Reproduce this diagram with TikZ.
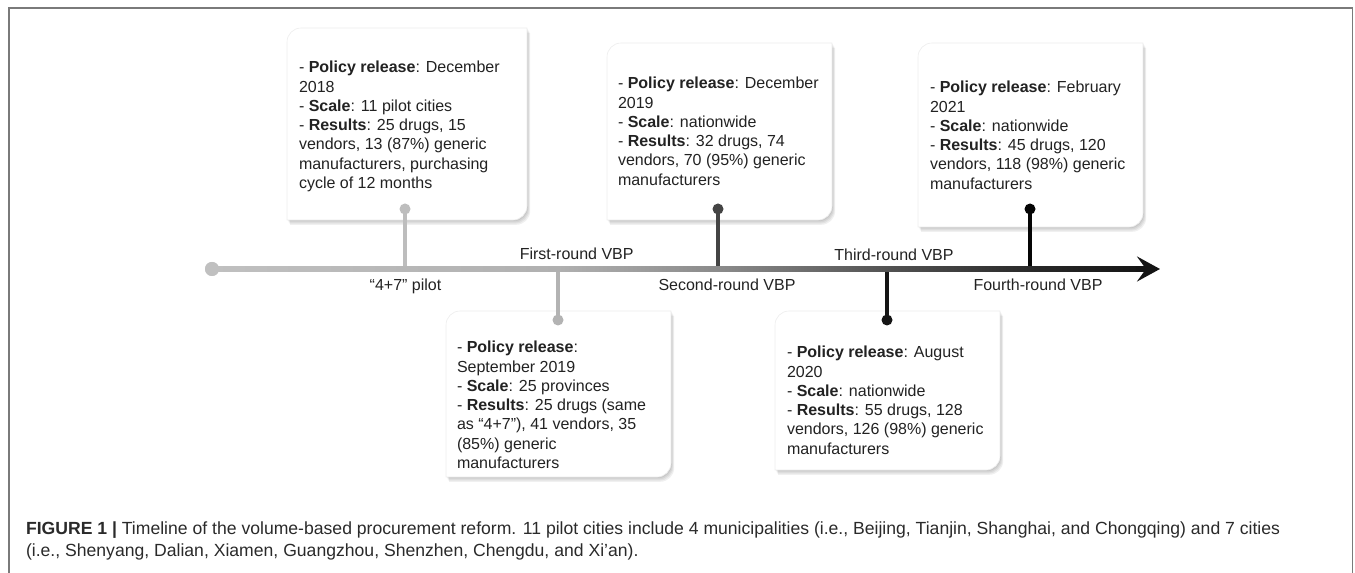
\documentclass[tikz,border=0pt]{standalone}
\usepackage{fontspec}
\setmainfont{Liberation Sans}
\usetikzlibrary{arrows.meta,calc}
\definecolor{framec}{HTML}{7A7A7A}
\definecolor{txtc}{HTML}{222222}
\definecolor{capc}{HTML}{2A2A2A}
\definecolor{s1}{HTML}{BDBDBD}
\definecolor{s2}{HTML}{B3B3B3}
\definecolor{s3}{HTML}{444444}
\definecolor{s4}{HTML}{151515}
\definecolor{s5}{HTML}{050505}
\definecolor{tl0}{HTML}{C0C0C0}
\definecolor{tl1}{HTML}{B0B0B0}
\definecolor{tl2}{HTML}{888888}
\definecolor{tl3}{HTML}{505050}
\definecolor{tl4}{HTML}{282828}
\definecolor{tl5}{HTML}{141414}
\pgfdeclarehorizontalshading{tlshade}{100bp}{color(0bp)=(tl0); color(25bp)=(tl0); color(43.5bp)=(tl1); color(52.5bp)=(tl2); color(61.5bp)=(tl3); color(69bp)=(tl4); color(75bp)=(tl5); color(100bp)=(tl5)}
\newcommand\drawcard[1]{%
  \foreach \dx/\dy in {0.8/1.2,1.6/2.4,2.4/3.6,3.2/4.8}{%
    \fill[black,opacity=0.06,transform canvas={xshift=\dx pt,yshift=-\dy pt}]
      (#1.south west) -- ([yshift=-14pt]#1.north west) arc[start angle=180,end angle=90,radius=14pt]
      -- (#1.north east) -- ([yshift=14pt]#1.south east) arc[start angle=0,end angle=-90,radius=14pt] -- cycle;}
  \filldraw[fill=white,draw=black!7,line width=0.6pt]
      (#1.south west) -- ([yshift=-14pt]#1.north west) arc[start angle=180,end angle=90,radius=14pt]
      -- (#1.north east) -- ([yshift=14pt]#1.south east) arc[start angle=0,end angle=-90,radius=14pt] -- cycle;}
\begin{document}
\begin{tikzpicture}[x=1pt,y=1pt,
  every node/.style={inner sep=0pt,outer sep=0pt},
  cardnode/.style={rectangle,minimum width=#1},
  txt/.style={font=\fontsize{16}{19.3}\selectfont,text=txtc,align=left,anchor=north west},
  lab/.style={font=\fontsize{16}{19.3}\selectfont,text=txtc},
  captxt/.style={font=\fontsize{17.6}{21}\selectfont,text=capc,anchor=base west},
  sdot/.style={circle,minimum size=11pt},
  stem/.style={line width=4pt}]
\useasboundingbox (0,0) rectangle (1355,573);
% frame
\draw[framec,line width=1.5pt] (9,-2) -- (9,565) -- (1352.5,565) -- (1352.5,-2);

% cards
\node[cardnode=240pt,minimum height=192pt] (c1) at (407,449) {};
\node[cardnode=225pt,minimum height=177pt] (c2) at (719.5,441.5) {};
\node[cardnode=225pt,minimum height=184pt] (c4) at (1030.5,438) {};
\node[cardnode=225pt,minimum height=166pt] (c3) at (558.5,179) {};
\node[cardnode=225pt,minimum height=159pt] (c5) at (887.5,182.5) {};
\drawcard{c1}\drawcard{c2}\drawcard{c4}\drawcard{c3}\drawcard{c5}

% card texts
\node[txt] (t1) at (299,511.8) {- \textbf{Policy release}: December\\2018\\- \textbf{Scale}: 11 pilot cities\\- \textbf{Results}: 25 drugs, 15\\vendors, 13 (87\%) generic\\manufacturers, purchasing\\cycle of 12 months};
\node[txt] (t2) at (618,495.8) {- \textbf{Policy release}: December\\2019\\- \textbf{Scale}: nationwide\\- \textbf{Results}: 32 drugs, 74\\vendors, 70 (95\%) generic\\manufacturers};
\node[txt] (t4) at (930,491.8) {- \textbf{Policy release}: February\\2021\\- \textbf{Scale}: nationwide\\- \textbf{Results}: 45 drugs, 120\\vendors, 118 (98\%) generic\\manufacturers};
\node[txt] (t3) at (457,231.8) {- \textbf{Policy release}:\\September 2019\\- \textbf{Scale}: 25 provinces\\- \textbf{Results}: 25 drugs (same\\as “4+7”), 41 vendors, 35\\(85\%) generic\\manufacturers};
\node[txt] (t5) at (787,226.8) {- \textbf{Policy release}: August\\2020\\- \textbf{Scale}: nationwide\\- \textbf{Results}: 55 drugs, 128\\vendors, 126 (98\%) generic\\manufacturers};

% timeline anchors
\node[circle,minimum size=14pt,fill=tl0] (t0) at (212,304) {};
\coordinate (tend) at (1160,304);
\coordinate (p1) at (405,304);
\coordinate (p2) at (558,304);
\coordinate (p3) at (718,304);
\coordinate (p4) at (887,304);
\coordinate (p5) at (1030,304);

% stems and dots
\node[sdot,fill=s1] (d1) at (405,364) {};
\node[sdot,fill=s2] (d2) at (558,253) {};
\node[sdot,fill=s3] (d3) at (718,364) {};
\node[sdot,fill=s4] (d4) at (887,253) {};
\node[sdot,fill=s5] (d5) at (1030,364) {};
\draw[stem,s1] (d1.center) -- (p1);
\draw[stem,s2] (d2.center) -- (p2);
\draw[stem,s3] (d3.center) -- (p3);
\draw[stem,s4] (d4.center) -- (p4);
\draw[stem,s5] (d5.center) -- (p5);

% timeline
\shade[shading=tlshade] ([yshift=-2.8pt]t0.center) rectangle ([xshift=-12pt,yshift=2.8pt]tend);
\draw[line width=5.6pt,tl5,-{Stealth[length=23pt,width=25pt,inset=9pt]}] ([xshift=-24pt]tend) -- (tend);
\fill[tl0] (t0) circle (7pt);

% labels
\node[lab] (l1) at (405.5,286.3) {“4+7” pilot};
\node[lab] (l2) at (576.7,319.7) {First-round VBP};
\node[lab] (l3) at (727,288) {Second-round VBP};
\node[lab] (l4) at (894,318) {Third-round VBP};
\node[lab] (l5) at (1038,288) {Fourth-round VBP};

% caption
\node[captxt] (cap1) at (26,38) {\textbf{FIGURE 1 |} Timeline of the volume-based procurement reform. 11 pilot cities include 4 municipalities (i.e., Beijing, Tianjin, Shanghai, and Chongqing) and 7 cities};
\node[captxt] (cap2) at (26,16.3) {(i.e., Shenyang, Dalian, Xiamen, Guangzhou, Shenzhen, Chengdu, and Xi’an).};
\end{tikzpicture}
\end{document}
